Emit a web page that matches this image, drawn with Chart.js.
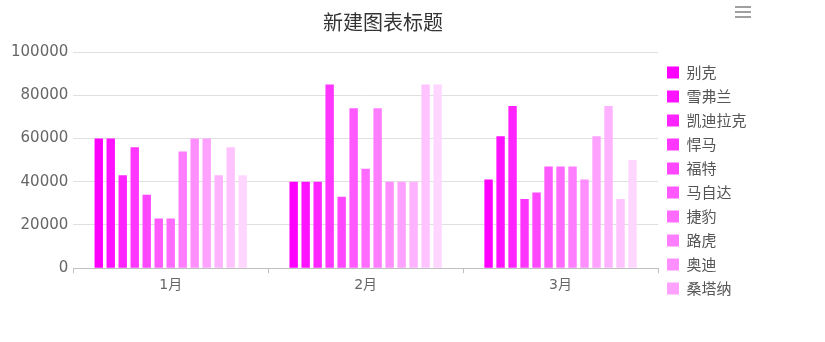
<!DOCTYPE html>
<html>
<head>
<meta charset="utf-8">
<script src="https://cdn.jsdelivr.net/npm/chart.js@4/dist/chart.umd.min.js"></script>
<style>
  html, body { margin: 0; padding: 0; background: #fff; }
  #wrap { width: 825px; height: 342px; }
</style>
</head>
<body>
<div id="wrap"><canvas id="barChart" width="825" height="342"></canvas></div>
<script>
const ctx = document.getElementById('barChart').getContext('2d');

/* --- Data ---------------------------------------------------------------- */
const chartTitle = '新建图表标题';
const months = ['1月', '2月', '3月'];
const brands = ['别克', '雪弗兰', '凯迪拉克', '悍马', '福特', '马自达', '捷豹', '路虎', '奥迪', '桑塔纳',
                '系列11', '系列12', '系列13'];
const sales = [
  [60000, 40000, 41000],
  [60000, 40000, 61000],
  [43000, 40000, 75000],
  [56000, 85000, 32000],
  [34000, 33000, 35000],
  [23000, 74000, 47000],
  [23000, 46000, 47000],
  [54000, 74000, 47000],
  [60000, 40000, 41000],
  [60000, 40000, 61000],
  [43000, 40000, 75000],
  [56000, 85000, 32000],
  [43000, 85000, 50000]
];
const yMax = 100000;
const yStep = 20000;
const legendShown = 10;

/* --- Styles -------------------------------------------------------------- */
const palette = ['#ff00ff', '#ff12ff', '#ff24ff', '#ff36ff', '#ff47ff', '#ff59ff', '#ff6bff',
                 '#ff7dff', '#ff8fff', '#ffa1ff', '#ffb2ff', '#ffc4ff', '#ffd6ff'];
const numFont = "'DejaVu Sans', 'Noto Sans CJK SC', sans-serif";
const cjkFont = "'Noto Sans CJK SC', 'DejaVu Sans', sans-serif";

/* --- Plugins ------------------------------------------------------------- */
const headerPlugin = {
  id: 'header',
  afterDraw(chart) {
    const c = chart.ctx;
    c.save();
    c.fillStyle = '#333';
    c.font = "20px " + cjkFont;
    c.textAlign = 'center';
    c.textBaseline = 'middle';
    c.fillText(chartTitle, 383, 22);
    // menu icon
    c.fillStyle = '#a0a0a0';
    [6, 11, 16].forEach(y => c.fillRect(735, y, 16, 2));
    c.restore();
  }
};

// legend is allowed to run below the plot, like the original
const legendSize = {
  id: 'legendSize',
  beforeInit(chart) {
    const fit = chart.legend.fit;
    chart.legend.fit = function () {
      this.maxHeight = 300;
      fit.call(this);
      this.width = 167;
    };
  },
  afterLayout(chart) {
    const lg = chart.legend;
    lg.top = 56;
    lg.bottom = chart.height;
    lg.height = lg.bottom - lg.top;
  }
};

/* --- Chart --------------------------------------------------------------- */
new Chart(ctx, {
  type: 'bar',
  data: {
    labels: months,
    datasets: brands.map((b, i) => ({
      label: b,
      data: sales[i],
      backgroundColor: palette[i],
      borderWidth: 0,
      categoryPercentage: 0.8,
      barPercentage: 0.7
    }))
  },
  options: {
    responsive: false,
    animation: false,
    layout: { padding: { top: 52, left: 6, right: 0, bottom: 44 } },
    scales: {
      x: {
        grid: { drawOnChartArea: false, drawTicks: true, tickLength: 5, color: '#c0c0c0' },
        border: { color: '#c0c0c0' },
        ticks: { color: '#666', padding: 4, font: { family: numFont, size: 14 } }
      },
      y: {
        min: 0, max: yMax,
        ticks: {
          stepSize: yStep, color: '#666', padding: 5,
          font: { family: numFont, size: 15 },
          callback: v => String(v)
        },
        grid: { color: '#e0e0e0', drawTicks: false },
        border: { display: false }
      }
    },
    plugins: {
      title: { display: false },
      tooltip: { enabled: false },
      legend: {
        position: 'right',
        align: 'start',
        labels: {
          boxWidth: 12, boxHeight: 12, padding: 9, color: '#555',
          font: { family: cjkFont, size: 15 },
          filter: item => item.datasetIndex < legendShown
        }
      }
    }
  },
  plugins: [headerPlugin, legendSize]
});
</script>
</body>
</html>
